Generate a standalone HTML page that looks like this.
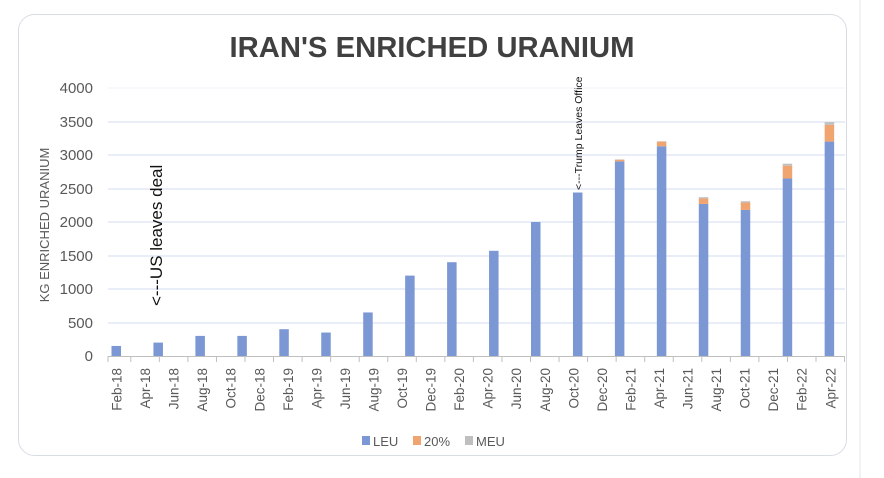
<!DOCTYPE html>
<html><head><meta charset="utf-8"><style>
body{margin:0;background:#fff;width:884px;height:478px;overflow:hidden}
svg{display:block}
text{font-family:"Liberation Sans",sans-serif}
</style></head><body>
<svg width="884" height="478" viewBox="0 0 884 478">
<rect x="0" y="0" width="884" height="478" fill="#fff"/>
<rect x="18.5" y="14.5" width="828" height="441" rx="16" fill="#fff" stroke="#d8dde3"/>
<line x1="860" y1="0" x2="860" y2="478" stroke="#e0e4ea"/>
<text x="432" y="57" text-anchor="middle" font-size="29" font-weight="bold" fill="#404040" textLength="405" lengthAdjust="spacingAndGlyphs">IRAN'S ENRICHED URANIUM</text>
<g stroke="#d3dbf0" stroke-width="1">
<line x1="108" y1="88" x2="845" y2="88" stroke="#eef1f8"/>
<line x1="108" y1="122" x2="845" y2="122"/>
<line x1="108" y1="155" x2="845" y2="155"/>
<line x1="108" y1="189" x2="845" y2="189"/>
<line x1="108" y1="222" x2="845" y2="222"/>
<line x1="108" y1="256" x2="845" y2="256"/>
<line x1="108" y1="289" x2="845" y2="289"/>
<line x1="108" y1="323" x2="845" y2="323"/>
</g>
<line x1="108" y1="356.5" x2="845" y2="356.5" stroke="#bfbfbf"/>
<g font-size="15" fill="#595959" text-anchor="end">
<text x="93" y="93">4000</text><text x="93" y="127">3500</text><text x="93" y="160">3000</text>
<text x="93" y="194">2500</text><text x="93" y="227">2000</text><text x="93" y="261">1500</text>
<text x="93" y="294">1000</text><text x="93" y="328">500</text><text x="93" y="361">0</text>
</g>
<text transform="translate(49,225) rotate(-90)" text-anchor="middle" font-size="13" fill="#595959">KG ENRICHED URANIUM</text>
<g id="bars" fill="#7b97d4"></g>
<g id="ticks" stroke="#bfbfbf"></g>
<g id="lbl" font-size="13.5" fill="#595959"></g>
<text transform="translate(162,306) rotate(-90)" font-size="17" fill="#111">&lt;---US leaves deal</text>
<text transform="translate(582,190) rotate(-90)" font-size="10.5" fill="#111">&lt;---Trump Leaves Office</text>
<rect x="362" y="436" width="8" height="9" fill="#7b97d4"/><text x="373" y="446" font-size="13" fill="#595959">LEU</text>
<rect x="413" y="436" width="8" height="9" fill="#f0a470"/><text x="424" y="446" font-size="13" fill="#595959">20%</text>
<rect x="465" y="436" width="8" height="9" fill="#bfbfbf"/><text x="476" y="446" font-size="13" fill="#595959">MEU</text>
</svg>
<script>
var ns="http://www.w3.org/2000/svg";
function el(t,a,p){var e=document.createElementNS(ns,t);for(var k in a)e.setAttribute(k,a[k]);p.appendChild(e);return e;}
var data=[[150,0,0],[200,0,0],[300,0,0],[300,0,0],[400,0,0],[350,0,0],[650,0,0],[1200,0,0],[1400,0,0],[1570,0,0],[2000,0,0],[2440,0,0],[2905,25,5],[3130,70,5],[2270,80,20],[2180,110,20],[2650,190,30],[3200,250,40]];
var k=0.067,base=356,B=document.getElementById('bars');
data.forEach(function(d,i){var cx=116+41.95*i,y=base;
 var cols=['#7b97d4','#f0a470','#bfbfbf'];
 for(var j=0;j<3;j++){if(!d[j])continue;var h=d[j]*k;y-=h;el('rect',{x:cx-4.5,y:y,width:9.5,height:h,fill:cols[j]},B);}});
var T=document.getElementById('ticks'),L=document.getElementById('lbl');
var m=['Feb','Apr','Jun','Aug','Oct','Dec'];
for(var i=0;i<26;i++){var x=116.5+28.55*i;
 var t=el('text',{transform:'translate('+(x+5)+',368) rotate(-90)','text-anchor':'end'},L);
 t.textContent=m[i%6]+'-'+(18+Math.floor(i/6));
 el('line',{x1:x+14.3,y1:356,x2:x+14.3,y2:362},T);}
el('line',{x1:108,y1:356,x2:108,y2:362},T);
</script>
</body></html>
